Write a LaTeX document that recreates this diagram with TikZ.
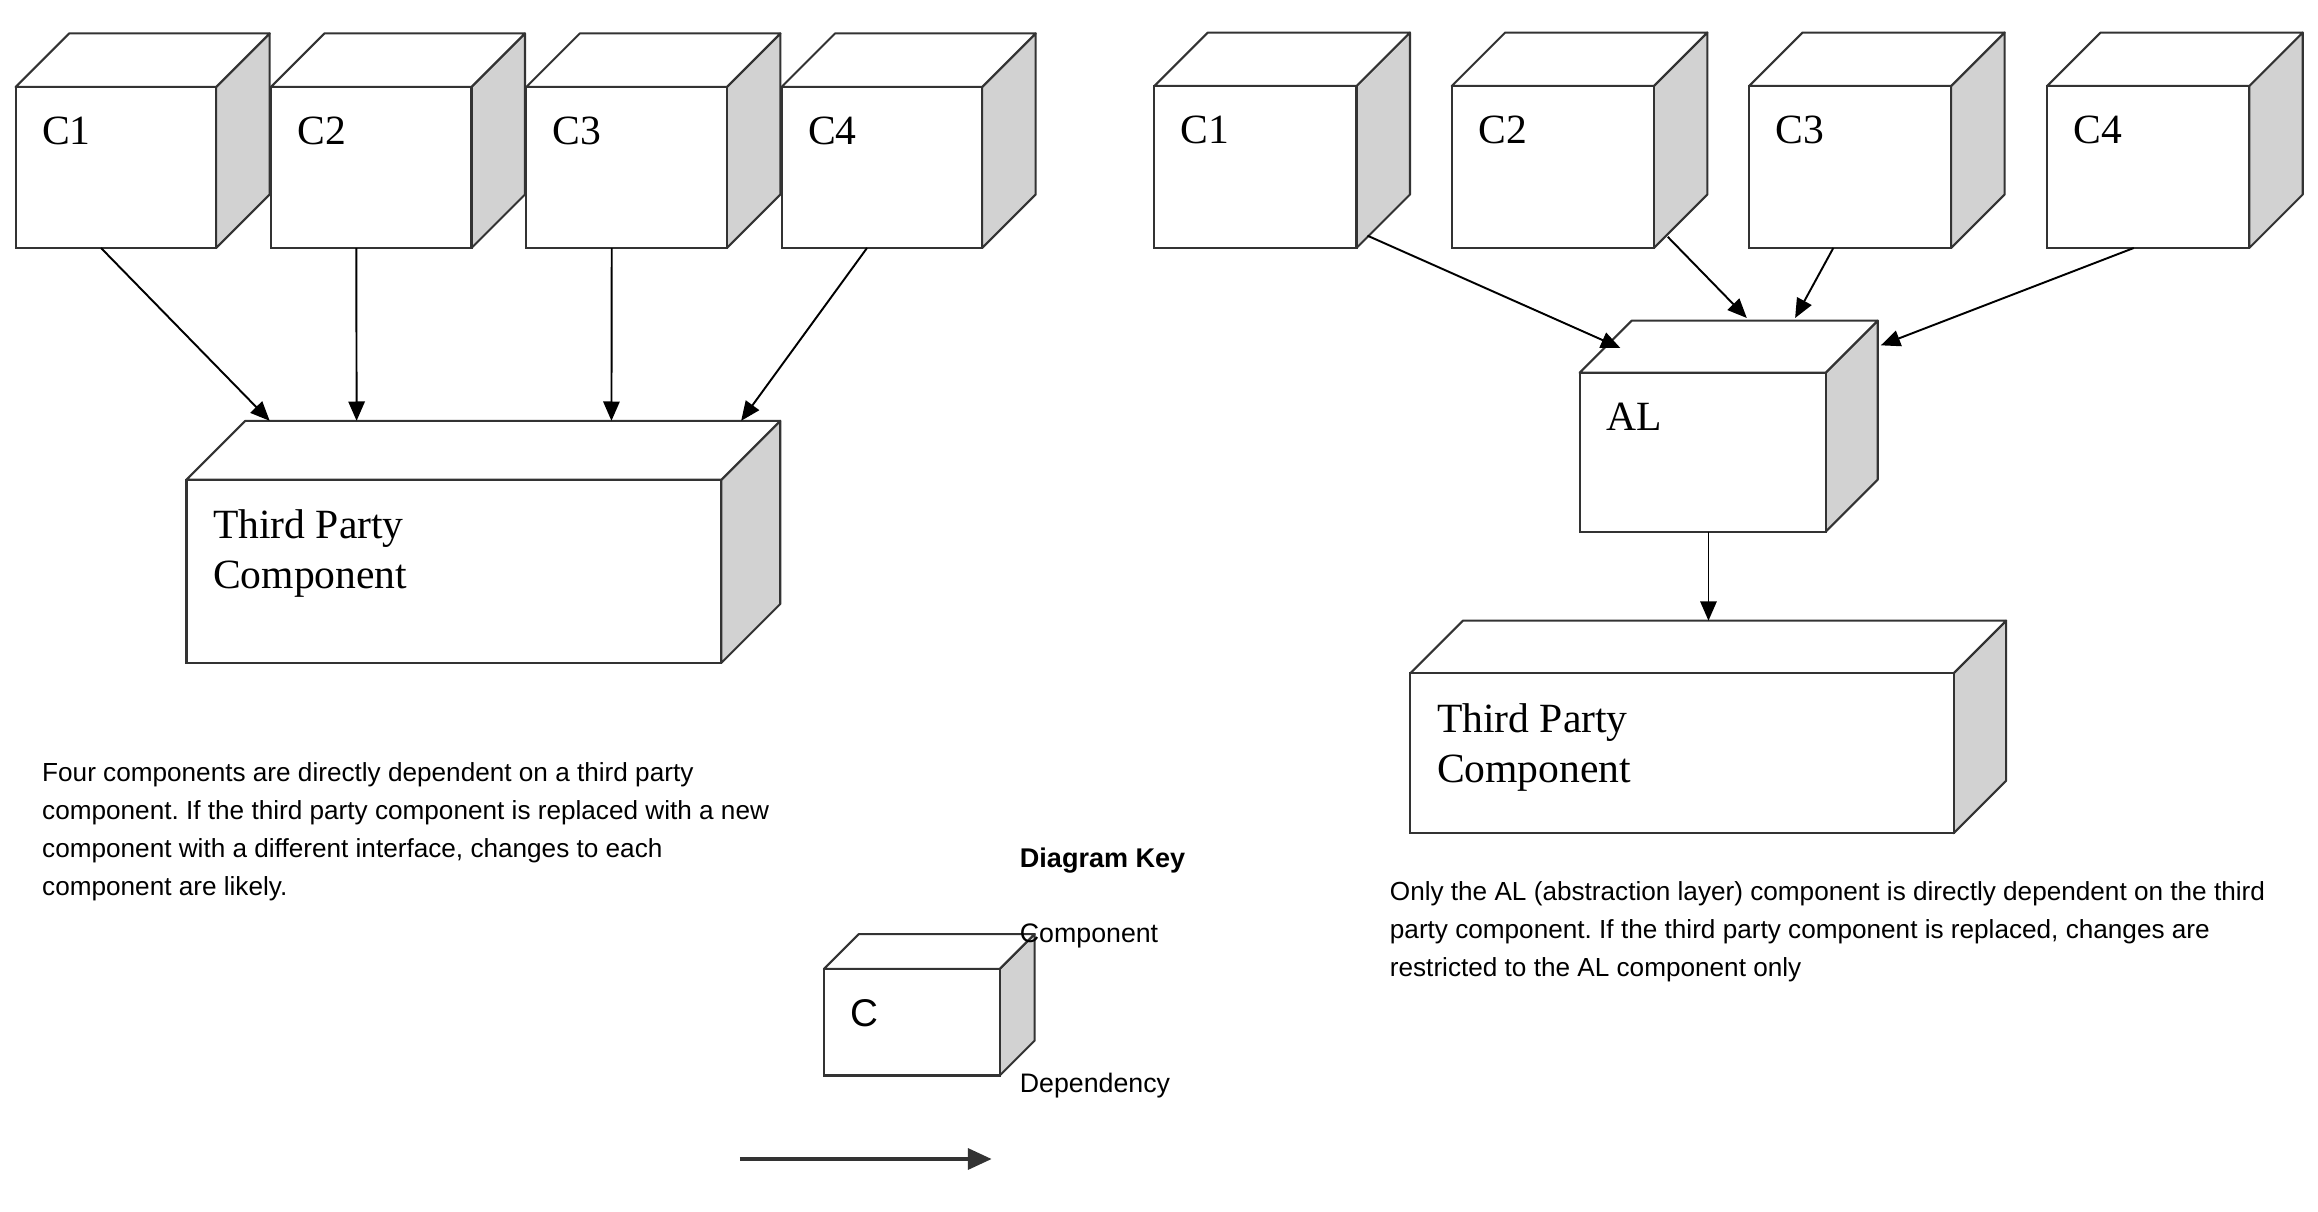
\documentclass[tikz,border=0pt]{standalone}
\usepackage{fontspec}
\setmainfont{Liberation Serif}
\setsansfont{Liberation Sans}
\usetikzlibrary{arrows.meta, calc}
\frenchspacing

% component box: [label style] name, front x, front y, width, height, depth, label
\newcommand{\compcube}[8][]{%
  \node[hull, minimum width={(#5+#7)*0.5pt}, minimum height={(#6+#7)*0.5pt}] (#2) at (#3,#4-#7) {};
  \filldraw[sideface] (#3+#5,#4) -- ++(#7,-#7) -- ++(0,#6) -- ++(-#7,#7) -- cycle;
  \filldraw[topface] (#3,#4) -- ++(#7,-#7) -- ++(#5,0) -- ++(-#7,#7) -- cycle;
  \draw[frontface] (#3,#4) rectangle ++(#5,#6);
  \node[cubelabel, #1] (#2-txt) at (#3+17.5,#4+20) {#8};
}

\begin{document}
\begin{tikzpicture}[
        x=0.5pt, y=-0.5pt,
        hull/.style={rectangle, inner sep=0pt, outer sep=0pt, anchor=north west},
        frontface/.style={draw=black!80, fill=white, line width=0.7pt},
        topface/.style={draw=black!80, fill=white, line width=0.7pt, line join=round},
        sideface/.style={draw=black!80, fill=gray!35, line width=0.7pt, line join=round},
        cubelabel/.style={anchor=north west, inner sep=0pt, align=left, font=\fontsize{14}{16.8}\selectfont},
        dep/.style={-{Triangle[length=6.5pt, width=5.5pt]}, line width=0.65pt},
        keyarrow/.style={-{Triangle[length=8pt, width=7pt]}, line width=1.3pt, black!80},
        caption/.style={anchor=north west, inner sep=0pt, align=left, font=\sffamily\fontsize{8.8}{12.8}\selectfont},
        keytext/.style={anchor=base west, inner sep=0pt, font=\sffamily\fontsize{9}{11}\selectfont}
    ]
        \useasboundingbox (0,0) rectangle (1560,815);

        % direct dependencies
        \foreach \i/\x in {1/10.5, 2/182.3, 3/354.2, 4/526}
            \compcube{lc\i}{\x}{58.5}{135}{108.4}{36}{C\i};
        \compcube{tpl}{125.5}{322.8}{360}{123.3}{39.6}{Third Party\\Component};

        \foreach \i/\e in {1/56, 2/114.5, 3/286, 4/373.3}
            \draw[dep] ($(lc\i.south west)+(57.5,0)$) -- ($(tpl.north west)+(\e,0)$);

        \node[caption] (leftnote) at (28,513) {Four components are directly dependent on a third party\\component. If the third party component is replaced with a new\\component with a different interface, changes to each\\component are likely.};

        % with abstraction layer
        \foreach \i/\x in {1/776.9, 2/977, 3/1177.1, 4/1377.7}
            \compcube{rc\i}{\x}{57.9}{136}{109}{36}{C\i};
        \compcube{al}{1063.1}{250.8}{165.6}{107}{35}{AL};
        \compcube{tpr}{949.2}{453}{365.6}{107.7}{35.3}{Third Party\\Component};

        \draw[dep] ($(rc1.south west)+(143.4,-8.3)$) -- ($(al.north west)+(27.4,18.4)$);
        \draw[dep] ($(rc2.south west)+(145.4,-7.5)$) -- ($(al.north west)+(112.5,-1.8)$);
        \draw[dep] ($(rc3.south west)+(56.7,0)$) -- ($(al.north west)+(145,-1.8)$);
        \draw[dep] ($(rc4.south west)+(58.3,0)$) -- ($(al.north west)+(202.7,16.6)$);
        \draw[dep] ($(al.south west)+(86.7,0)$) coordinate (alout) -- (alout |- tpr.north);

        \node[caption] (rightnote) at (935,593) {Only the AL (abstraction layer) component is directly dependent on the third\\party component. If the third party component is replaced, changes are\\restricted to the AL component only};

        % key
        \node[keytext, font=\sffamily\bfseries\fontsize{9.1}{11}\selectfont] (keytitle) at (686,584) {Diagram Key};
        \compcube[font=\sffamily\fontsize{13}{15}\selectfont]{key}{554.5}{652.1}{118.3}{71.7}{23.5}{C};
        \node[keytext] (keycomp) at (686,634) {Component};
        \node[keytext] (keydep) at (686,735) {Dependency};
        \coordinate (keyfrom) at (498,780);
        \coordinate (keyto) at (667.4,780);
        \draw[keyarrow] (keyfrom) -- (keyto);
    \end{tikzpicture}
\end{document}
